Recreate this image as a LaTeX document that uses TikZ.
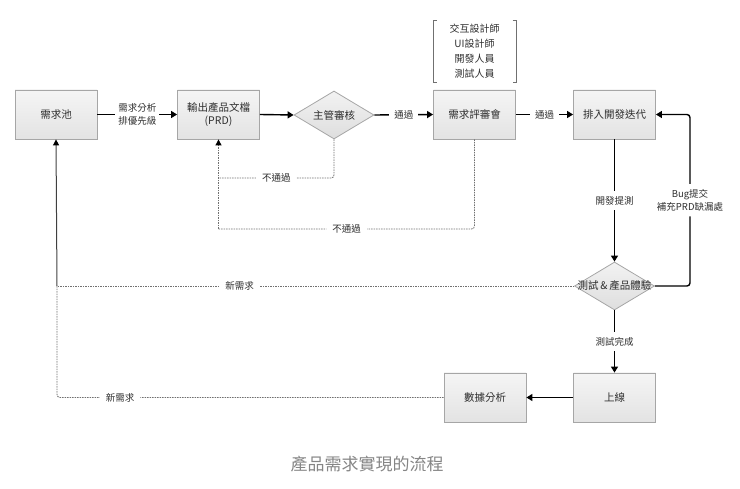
\documentclass[tikz,border=0pt]{standalone}
\usepackage{fontspec}
\setmainfont{Noto Sans CJK TC}
\usetikzlibrary{arrows.meta,shapes.geometric}
\definecolor{txt}{HTML}{2E2E2E}
\definecolor{edge}{HTML}{A6A6A6}
\definecolor{dgray}{HTML}{707070}
\begin{document}
\begin{tikzpicture}[x=1pt,y=-1pt,
  box/.style={draw=edge,line width=0.8pt,top color=white!96!black,bottom color=white!89!black,
    minimum width=82pt,minimum height=49pt,inner sep=0pt,text=txt,font=\fontsize{10.5}{13}\selectfont,align=center},
  dia/.style={draw=edge,line width=0.8pt,diamond,top color=white!95!black,bottom color=white!87!black,
    minimum width=80pt,minimum height=48pt,inner sep=0pt},
  dtext/.style={text=txt,font=\fontsize{10.5}{13}\selectfont,inner sep=0pt},
  lbl/.style={fill=white,text=txt,font=\fontsize{9.5}{13.5}\selectfont,align=center,inner sep=4pt},
  sline/.style={line width=1.4pt,black,-{Triangle[length=6pt,width=7pt]}},
  dline/.style={line width=0.8pt,dgray,dash pattern=on 1.6pt off 0.9pt,rounded corners=3pt},
  tip/.style={-{Triangle[length=6pt,width=6pt,color=black]}}
]
\useasboundingbox (0,0) rectangle (740,489);

% nodes
\node[box] (pool) at (56,114.5) {需求池};
\node[box] (prd) at (218.5,114.5) {輸出產品文檔\\(PRD)};
\node[dia] (mgr) at (334,115) {};
\node[dtext] (mgrt) at (mgr) {主管審核};
\node[box] (rev) at (474.5,114.5) {需求評審會};
\node[box] (dev) at (614.5,114.5) {排入開發迭代};
\node[dia] (test) at (614.5,286) {};
\node[dtext] (testt) at (test) {測試\,\&\,產品體驗};
\node[box] (live) at (614.5,397.5) {上線};
\node[box] (ana) at (485,397.5) {數據分析};

% bracket group
\node[text=txt,font=\fontsize{10}{15}\selectfont,align=center] (grp) at (474.5,51) {交互設計師\\UI設計師\\開發人員\\測試人員};
\draw[dgray,line width=0.6pt] (436.5,20) -- (433,20) -- (433,82) -- (436.5,82);
\draw[dgray,line width=0.6pt] (512.5,20) -- (516,20) -- (516,82) -- (512.5,82);

% main solid arrows
\draw[sline] (pool.east) -- node[lbl,inner sep=3pt] {需求分析\\排優先級} (prd.west);
\draw[sline] (prd.east) -- (mgr.west);
\draw[sline] (mgr.east) -- node[lbl,inner sep=5pt] {通過} (rev.west);
\draw[sline] (rev.east) -- node[lbl,inner sep=5pt] {通過} (dev.west);
\draw[sline] (dev.south) -- node[lbl,inner sep=5pt] {開發提測} (test.north);
\draw[sline] (test.south) -- node[lbl,inner sep=5pt] {測試完成} (live.north);
\draw[sline] (live.west) -- (ana.east);
\coordinate (bugA) at (690,286);
\coordinate (bugB) at (690,114.5);
\draw[sline,rounded corners=3pt] (test.east) -- (bugA) -- node[lbl,inner sep=5pt] {Bug提交\\補充PRD缺漏處} (bugB) -- (dev.east);

% rejected loops
\coordinate (r1) at (218.5,178);
\coordinate (r2) at (218.5,229);
\draw[dline] (mgr.south) |- node[lbl,pos=0.75,inner sep=6pt] {不通過} (r1);
\draw[dline] (rev.south) |- node[lbl,pos=0.75,inner sep=6pt] {不通過} (r2);
\draw[dline,tip,rounded corners=0pt] (r2) -- (prd.south);

% new requirement loops
\coordinate (n1) at (57,286);
\coordinate (n2) at (57,397.5);
\draw[dline] (test.west) -- node[lbl,pos=0.647,inner sep=6pt] {新需求} (n1);
\draw[dline] (ana.west) -- node[lbl,pos=0.837,inner sep=6pt] {新需求} (n2) -- (n1);
\draw[line width=1pt,black!75,-{Triangle[length=6pt,width=6pt,color=black]}] (n1) -- (pool.south);

% caption
\node[text=black!48,font=\fontsize{17}{20}\selectfont] (cap) at (367,464.5) {產品需求實現的流程};
\end{tikzpicture}
\end{document}
